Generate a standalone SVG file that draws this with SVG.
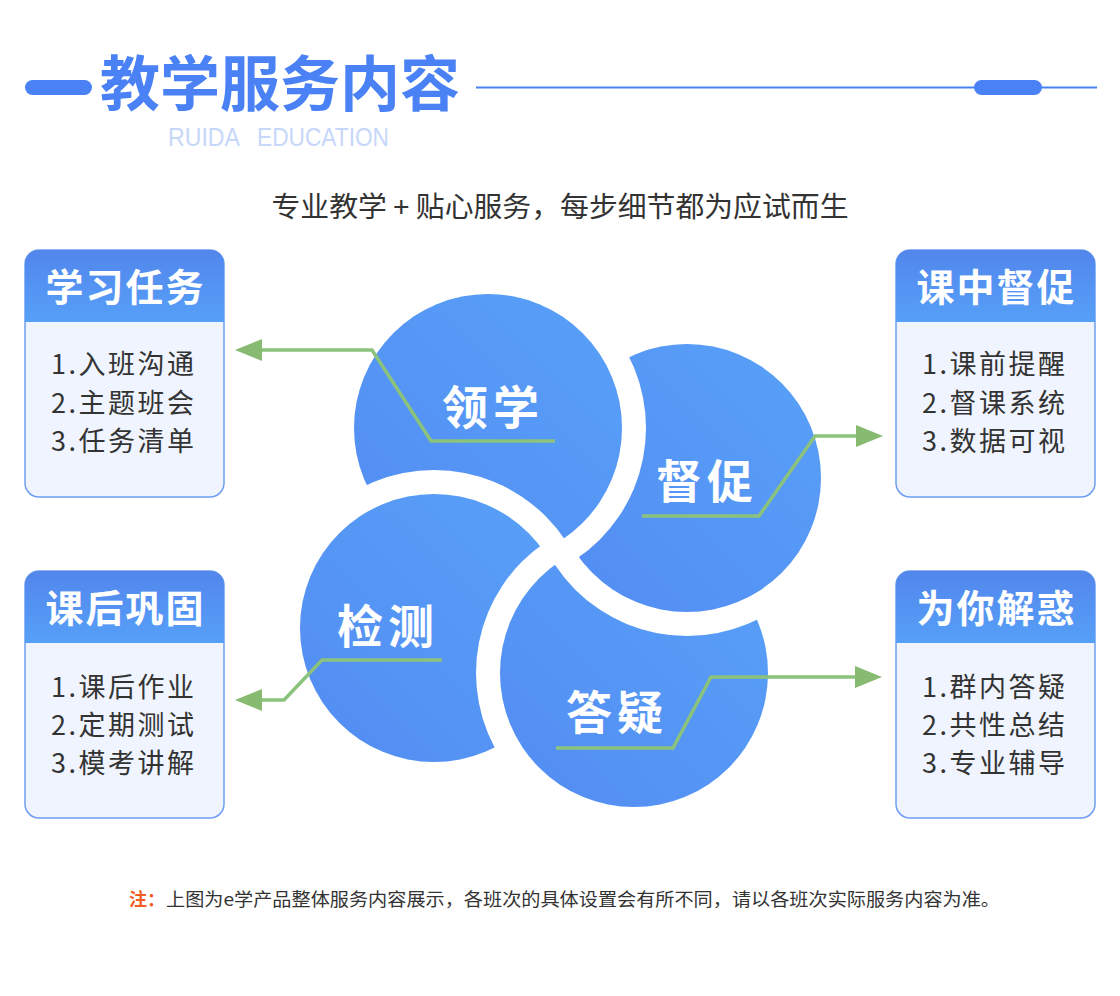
<svg xmlns="http://www.w3.org/2000/svg" width="1120" height="996" viewBox="0 0 1120 996">
<style>
.cjk{font-family:"Noto Sans CJK SC","Noto Sans",sans-serif}
.hdr{font-family:"Noto Sans CJK SC",sans-serif;font-weight:700;font-size:38px;fill:#fff;letter-spacing:2px;text-anchor:middle}
.item{font-family:"Noto Sans CJK SC",sans-serif;font-size:27px;fill:#333;letter-spacing:2.5px}
.lbl{font-family:"Noto Sans CJK SC",sans-serif;font-weight:700;font-size:46px;fill:#fff;letter-spacing:5px;text-anchor:middle}
.body{fill:#EFF4FE;stroke:#6E9EF2;stroke-width:1.5}
.conn{fill:none;stroke:#8BC27C;stroke-width:3.5;stroke-linejoin:miter}
</style>
<defs>
<linearGradient id="cg" x1="1" y1="0" x2="0" y2="1">
<stop offset="0" stop-color="#58A1F8"/>
<stop offset="1" stop-color="#538CF2"/>
</linearGradient>
<linearGradient id="hg" x1="0" y1="0" x2="0" y2="1">
<stop offset="0" stop-color="#5286EC"/>
<stop offset="1" stop-color="#56A0F8"/>
</linearGradient>
<marker id="ah" viewBox="0 0 27 22" refX="0" refY="11" markerWidth="27" markerHeight="22" markerUnits="userSpaceOnUse" orient="auto">
<path d="M0,0 L27,11 L0,22 Z" fill="#88BB72"/>
</marker>
<clipPath id="outD">
<path clip-rule="evenodd" d="M0 0H1120V996H0Z M529 478a158 158 0 1 0 316 0a158 158 0 1 0 -316 0Z"/>
</clipPath>
</defs>
<rect width="1120" height="996" fill="#fff"/>

<g id="header">
<rect x="25" y="80" width="67" height="15" rx="7.5" fill="#4A82F6"/>
<text x="280" y="106" class="cjk" font-size="60" font-weight="700" fill="#4A82F6" text-anchor="middle">教学服务内容</text>
<line x1="476" y1="87.5" x2="1097" y2="87.5" stroke="#4A82F6" stroke-width="2"/>
<rect x="974" y="80" width="68" height="15" rx="7.5" fill="#4A82F6"/>
<text x="168" y="146" font-family="Liberation Sans, sans-serif" font-size="25" fill="#C7D7FA" textLength="72" lengthAdjust="spacingAndGlyphs">RUIDA</text>
<text x="257" y="146" font-family="Liberation Sans, sans-serif" font-size="25" fill="#C7D7FA" textLength="132" lengthAdjust="spacingAndGlyphs">EDUCATION</text>
<text x="560" y="217" class="cjk" font-size="28" fill="#333" text-anchor="middle" textLength="577" lengthAdjust="spacingAndGlyphs">专业教学 + 贴心服务，每步细节都为应试而生</text>
</g>

<g id="circles">
<g id="c-duchu">
<circle cx="687" cy="478" r="158" fill="#fff"/>
<circle cx="687" cy="478" r="134" fill="url(#cg)"/>
</g>
<g id="c-lingxue">
<circle cx="488" cy="428" r="158" fill="#fff"/>
<circle cx="488" cy="428" r="134" fill="url(#cg)"/>
</g>
<g id="c-jiance">
<circle cx="434" cy="628" r="158" fill="#fff"/>
<circle cx="434" cy="628" r="134" fill="url(#cg)"/>
</g>
<g id="c-dayi" clip-path="url(#outD)">
<circle cx="634" cy="673" r="158" fill="#fff"/>
<circle cx="634" cy="673" r="134" fill="url(#cg)"/>
</g>
<text x="493" y="424" class="lbl">领学</text>
<text x="707" y="498" class="lbl">督促</text>
<text x="388" y="643" class="lbl">检测</text>
<text x="617" y="729" class="lbl">答疑</text>
</g>

<g id="connectors">
<path class="conn" d="M555 441H431L372 350H262" marker-end="url(#ah)"/>
<path class="conn" d="M642 516H759L815 436H856" marker-end="url(#ah)"/>
<path class="conn" d="M442 660H322L284 700H262" marker-end="url(#ah)"/>
<path class="conn" d="M556 748H673L711 677H855" marker-end="url(#ah)"/>
</g>

<g id="box-xuexi">
<rect class="body" x="25" y="250" width="199" height="247" rx="14"/>
<path d="M25 322V264A14 14 0 0 1 39 250H210A14 14 0 0 1 224 264V322Z" fill="url(#hg)"/>
<text x="125.5" y="301" class="hdr">学习任务</text>
<text x="51" y="374" class="item">1.入班沟通</text>
<text x="51" y="413" class="item">2.主题班会</text>
<text x="51" y="451" class="item">3.任务清单</text>
</g>

<g id="box-kezhong">
<rect class="body" x="896" y="250" width="199" height="247" rx="14"/>
<path d="M896 322V264A14 14 0 0 1 910 250H1081A14 14 0 0 1 1095 264V322Z" fill="url(#hg)"/>
<text x="996.5" y="301" class="hdr">课中督促</text>
<text x="922" y="374" class="item">1.课前提醒</text>
<text x="922" y="413" class="item">2.督课系统</text>
<text x="922" y="451" class="item">3.数据可视</text>
</g>

<g id="box-kehou">
<rect class="body" x="25" y="571" width="199" height="247" rx="14"/>
<path d="M25 643V585A14 14 0 0 1 39 571H210A14 14 0 0 1 224 585V643Z" fill="url(#hg)"/>
<text x="125.5" y="622" class="hdr">课后巩固</text>
<text x="51" y="697" class="item">1.课后作业</text>
<text x="51" y="735" class="item">2.定期测试</text>
<text x="51" y="773" class="item">3.模考讲解</text>
</g>

<g id="box-jiehuo">
<rect class="body" x="896" y="571" width="199" height="247" rx="14"/>
<path d="M896 643V585A14 14 0 0 1 910 571H1081A14 14 0 0 1 1095 585V643Z" fill="url(#hg)"/>
<text x="996.5" y="622" class="hdr">为你解惑</text>
<text x="922" y="697" class="item">1.群内答疑</text>
<text x="922" y="735" class="item">2.共性总结</text>
<text x="922" y="773" class="item">3.专业辅导</text>
</g>

<g id="footnote">
<text x="129" y="906" class="cjk" font-size="18" font-weight="700" fill="#F25C1E">注：</text>
<text x="166" y="906" class="cjk" font-size="18" fill="#333" textLength="834" lengthAdjust="spacingAndGlyphs">上图为e学产品整体服务内容展示，各班次的具体设置会有所不同，请以各班次实际服务内容为准。</text>
</g>
</svg>
